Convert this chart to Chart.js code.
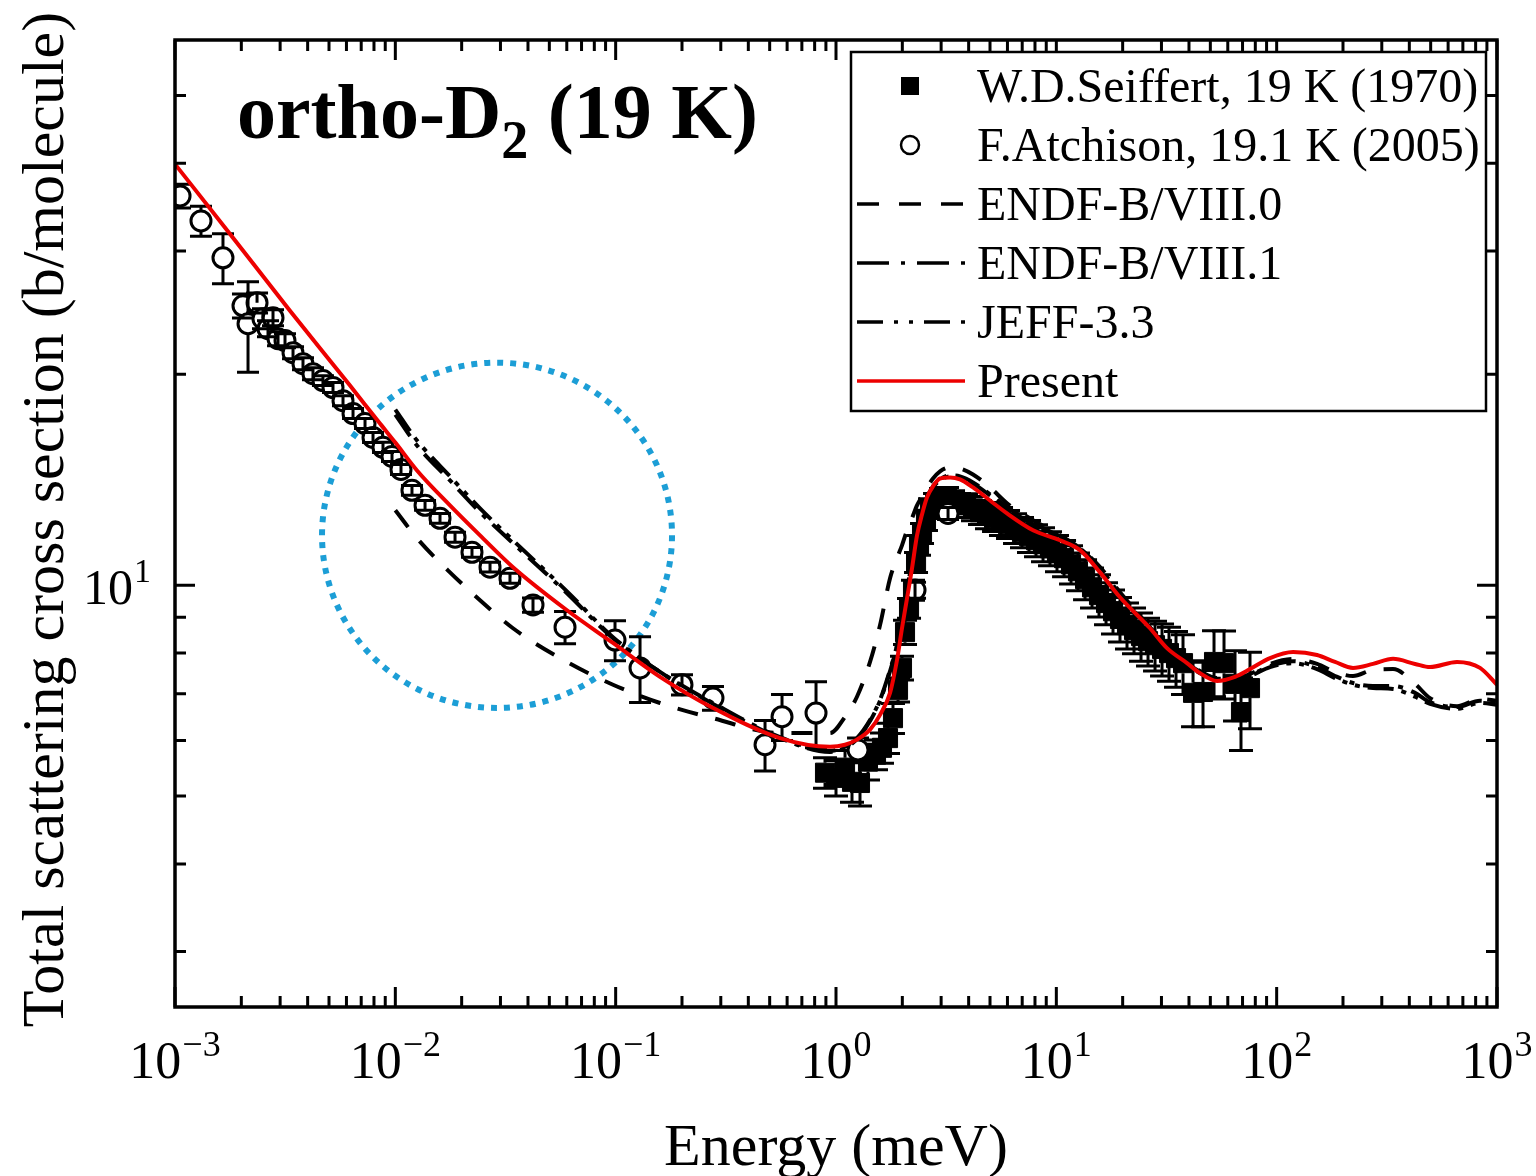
<!DOCTYPE html>
<html><head><meta charset="utf-8">
<script src="https://cdn.jsdelivr.net/npm/chart.js@4.4.1/dist/chart.umd.min.js"></script>
<style>html,body{margin:0;padding:0;background:#fff;overflow:hidden}canvas{display:block}</style>
</head><body>
<canvas id="c" width="1536" height="1176" style="width:1536px;height:1176px"></canvas>
<script>
// ---------------- DATA ----------------
const xTickExponents = [-3, -2, -1, 0, 1, 2, 3];
const yMajorTicks = [10];
const yMajorLabels = [["10", "1"]];
const yMinorTicks = [3, 4, 5, 6, 7, 8, 9, 20, 30, 40, 50];

const panelTitle = ["ortho-D", "2", " (19 K)"];
const xTitle = "Energy (meV)";
const yTitle = "Total scattering cross section (b/molecule)";

// Present (red)
const presentEnergy = [0.001,0.001777,0.003325,0.006228,0.008518,0.01,0.01254,0.0177,0.02423,0.0342,0.06013,0.09725,0.1589,0.2765,0.5568,0.9393,1.099,1.245,1.427,1.584,1.759,1.892,1.993,2.101,2.213,2.332,2.457,2.589,2.756,2.966,3.293,3.654,4.186,5.0,5.973,7.84,10.39,12.81,15.79,19.45,26.62,31.79,39.19,44.88,53.62,64.71,75.68,93.29,118.7,152.5,184.0,222.1,273.7,337.4,424.5,496.6,658.5,837.4,1000];
const presentSigma = [39.9,31.72,24.64,19.27,17.01,15.98,14.58,13.00,11.78,10.61,9.21,8.27,7.40,6.68,6.05,5.88,5.92,6.02,6.22,6.53,7.02,7.82,8.68,9.58,10.57,11.78,12.62,13.35,13.84,14.20,14.25,14.16,13.79,13.21,12.66,11.98,11.59,11.22,10.43,9.61,8.68,8.13,7.74,7.49,7.30,7.40,7.59,7.87,8.03,7.95,7.77,7.62,7.72,7.85,7.72,7.64,7.77,7.62,7.21];

// Evaluations share one energy grid
const evalEnergy = [0.01,0.01254,0.0177,0.02423,0.0342,0.06013,0.09725,0.1589,0.2765,0.5568,0.9393,1.099,1.245,1.427,1.584,1.759,1.892,1.993,2.101,2.213,2.332,2.457,2.589,2.756,2.966,3.293,3.654,4.186,5.0,5.973,7.84,10.39,12.81,15.79,19.45,26.62,31.79,39.19,44.88,53.62,64.71,75.68,93.29,118.7,152.5,184.0,222.1,273.7,337.4,424.5,496.6,658.5,837.4,1000];
const endf80Sigma = [12.79,11.67,10.43,9.52,8.68,7.77,7.21,6.79,6.46,6.15,6.15,6.49,6.93,7.77,8.77,10.23,10.93,11.40,11.98,12.46,13.00,13.39,13.79,14.20,14.54,14.73,14.68,14.39,13.79,13.09,12.38,11.78,11.29,10.61,9.77,8.71,8.19,7.77,7.54,7.37,7.37,7.47,7.72,7.85,7.72,7.52,7.42,7.57,7.59,7.23,6.90,6.72,6.88,6.84];
const endf81Sigma = [17.52,15.83,14.11,12.71,11.48,9.74,8.40,7.52,6.79,6.07,5.80,5.88,6.05,6.42,6.86,7.57,8.21,8.92,9.84,10.86,11.86,12.71,13.35,13.84,14.16,14.35,14.30,14.02,13.48,12.92,12.26,11.75,11.29,10.57,9.71,8.68,8.16,7.74,7.52,7.37,7.37,7.44,7.67,7.79,7.64,7.42,7.25,7.18,7.18,7.02,6.81,6.70,6.84,6.79];
const jeffSigma = [17.81,16.09,14.30,12.87,11.59,9.80,8.43,7.52,6.77,6.05,5.78,5.86,6.03,6.40,6.84,7.54,8.19,8.89,9.80,10.82,11.82,12.66,13.30,13.79,14.11,14.30,14.25,13.97,13.43,12.87,12.22,11.71,11.25,10.54,9.68,8.66,8.13,7.72,7.49,7.35,7.35,7.42,7.64,7.74,7.59,7.37,7.21,7.13,7.11,6.93,6.77,6.66,6.79,6.75];

// F.Atchison, 19.1 K (2005)
const atchEnergy = [0.001054,0.001312,0.001651,0.002035,0.002145,0.002357,0.002508,0.002643,0.002785,0.002935,0.003157,0.003433,0.00381,0.004229,0.004694,0.005213,0.005788,0.006427,0.007285,0.00792,0.00879,0.009658,0.01061,0.0119,0.01364,0.01595,0.01866,0.02228,0.0269,0.03314,0.04215,0.05891,0.09931,0.129,0.2,0.2765,0.4763,0.5689,0.8116,1.259,2.284,3.225];
const atchSigma = [35.94,33.11,29.33,25.05,23.62,25.30,24.01,23.23,24.09,22.48,22.34,21.47,20.71,20.04,19.59,19.15,18.34,17.58,17.01,16.25,15.73,15.27,14.63,13.66,13.00,12.46,11.71,11.14,10.61,10.23,9.37,8.71,8.35,7.62,7.21,6.90,5.92,6.49,6.57,5.82,9.84,12.66];
const atchError = [1.41,1.63,2.41,0.99,3.49,0.83,0.79,0.61,0.63,0.52,0.51,0.42,0.41,0.39,0.32,0.31,0.30,0.29,0.28,0.27,0.26,0.25,0.24,0.22,0.21,0.20,0.19,0.18,0.17,0.17,0.22,0.46,0.55,0.82,0.24,0.27,0.49,0.49,0.71,0.23,0.26,0.25];

// W.D.Seiffert, 19 K (1970)
const seifEnergy = [0.8915,1.0,1.099,1.182,1.285,1.397,1.519,1.617,1.722,1.814,1.912,1.993,2.057,2.145,2.236,2.308,2.381,2.457,2.561,2.671,2.815,2.997,3.191,3.398,3.616,3.892,4.186,4.504,4.846,5.215,5.61,6.036,6.494,6.985,7.516,8.087,8.702,9.361,10.07,10.84,11.66,12.54,13.5,14.52,15.62,16.81,18.08,19.45,20.93,22.52,24.23,26.07,28.05,30.18,32.46,34.93,37.58,41.73,46.31,51.96,57.68,64.71,68.88,75.68];
const seifSigma = [5.40,5.31,5.49,5.24,5.22,5.60,5.73,5.86,6.05,6.46,7.09,7.62,8.57,9.27,9.84,10.78,11.40,11.86,12.38,12.87,13.09,13.30,13.35,13.21,13.09,13.00,12.87,12.71,12.58,12.46,12.34,12.22,12.06,11.90,11.75,11.59,11.44,11.29,11.11,10.93,10.71,10.47,10.20,9.93,9.68,9.43,9.18,8.95,8.77,8.63,8.46,8.32,8.21,8.11,8.00,7.87,7.74,7.02,7.04,7.77,7.74,7.23,6.59,7.13];
const seifError = [0.27,0.31,0.32,0.34,0.38,0.33,0.28,0.29,0.30,0.32,0.28,0.30,0.34,0.30,0.32,0.35,0.37,0.39,0.41,0.42,0.43,0.44,0.44,0.43,0.43,0.51,0.51,0.50,0.54,0.53,0.57,0.56,0.59,0.59,0.62,0.61,0.64,0.63,0.66,0.65,0.67,0.65,0.67,0.65,0.67,0.65,0.66,0.65,0.66,0.65,0.67,0.65,0.67,0.69,0.71,0.72,0.76,0.74,0.76,0.84,0.86,0.83,0.78,0.89];

// highlighted region (dotted ellipse), given by its energy / cross-section extents
const highlightEnergy = [0.004648, 0.1802];
const highlightSigma = [6.68, 20.78];

// ---------------- RENDER ----------------
const SERIF = '"Liberation Serif", "Times New Roman", serif';
const RED = 'rgb(237,0,0)';
const pts = (xs, ys) => xs.map((x, i) => ({x: x, y: ys[i]}));

const datasets = [
  {label: 'Present', data: pts(presentEnergy, presentSigma), borderColor: RED, borderWidth: 4,
   pointRadius: 0, cubicInterpolationMode: 'monotone', order: 0, legendLine: []},
  {label: 'ENDF-B/VIII.0', data: pts(evalEnergy, endf80Sigma), borderColor: '#000', borderWidth: 4,
   borderDash: [21, 18], pointRadius: 0, cubicInterpolationMode: 'monotone', order: 1, legendLine: [22, 20]},
  {label: 'ENDF-B/VIII.1', data: pts(evalEnergy, endf81Sigma), borderColor: '#000', borderWidth: 4,
   borderDash: [26, 9, 5, 9], pointRadius: 0, cubicInterpolationMode: 'monotone', order: 2, legendLine: [32, 12, 4, 12]},
  {label: 'JEFF-3.3', data: pts(evalEnergy, jeffSigma), borderColor: '#000', borderWidth: 4,
   borderDash: [26, 8, 5, 8, 5, 8], pointRadius: 0, cubicInterpolationMode: 'monotone', order: 3, legendLine: [26, 11, 4, 11, 4, 11]},
  {label: 'F.Atchison, 19.1 K (2005)', data: pts(atchEnergy, atchSigma), showLine: false,
   pointStyle: 'circle', pointRadius: 10, pointBorderWidth: 3, pointBackgroundColor: '#fff', pointBorderColor: '#000',
   errors: atchError, markerHalf: 10, capHalf: 11, order: 4, legendMarker: 'circle'},
  {label: 'W.D.Seiffert, 19 K (1970)', data: pts(seifEnergy, seifSigma), showLine: false,
   pointStyle: 'rect', pointRadius: 13.5, pointBorderWidth: 1, pointBackgroundColor: '#000', pointBorderColor: '#000',
   errors: seifError, markerHalf: 10, capHalf: 12, order: 5, legendMarker: 'rect'}
];
const legendOrder = ['W.D.Seiffert, 19 K (1970)', 'F.Atchison, 19.1 K (2005)', 'ENDF-B/VIII.0', 'ENDF-B/VIII.1', 'JEFF-3.3', 'Present'];

const errorBarPlugin = {
  id: 'errbars',
  afterDatasetDraw(chart, args) {
    const ds = chart.data.datasets[args.index];
    if (!ds.errors) return;
    const ctx = chart.ctx, xs = chart.scales.x, ys = chart.scales.y, a = chart.chartArea;
    const r = ds.markerHalf, cap = ds.capHalf;
    ctx.save();
    ctx.beginPath(); ctx.rect(a.left, a.top, a.right - a.left, a.bottom - a.top); ctx.clip();
    ctx.strokeStyle = '#000'; ctx.lineWidth = 3; ctx.lineCap = 'butt';
    ds.data.forEach((p, i) => {
      const e = ds.errors[i];
      const px = xs.getPixelForValue(p.x), py = ys.getPixelForValue(p.y);
      const top = ys.getPixelForValue(p.y + e), bot = ys.getPixelForValue(p.y - e);
      ctx.beginPath();
      ctx.moveTo(px, (py - top > r) ? py - r : py); ctx.lineTo(px, top);
      ctx.moveTo(px, (bot - py > r) ? py + r : py); ctx.lineTo(px, bot);
      ctx.moveTo(px - cap, top); ctx.lineTo(px + cap, top);
      ctx.moveTo(px - cap, bot); ctx.lineTo(px + cap, bot);
      ctx.stroke();
    });
    ctx.restore();
  }
};

const highlightPlugin = {
  id: 'highlight',
  beforeDatasetsDraw(chart) {
    const ctx = chart.ctx, xs = chart.scales.x, ys = chart.scales.y;
    const x0 = xs.getPixelForValue(highlightEnergy[0]), x1 = xs.getPixelForValue(highlightEnergy[1]);
    const y0 = ys.getPixelForValue(highlightSigma[1]), y1 = ys.getPixelForValue(highlightSigma[0]);
    ctx.save();
    ctx.strokeStyle = 'rgb(28,158,214)'; ctx.lineWidth = 6; ctx.setLineDash([6, 7]); ctx.lineCap = 'butt';
    ctx.beginPath();
    ctx.ellipse((x0 + x1) / 2, (y0 + y1) / 2, (x1 - x0) / 2, (y1 - y0) / 2, 0, 0, Math.PI * 2);
    ctx.stroke();
    ctx.restore();
  }
};

function drawPower(ctx, mant, exp, x, y, align, big, small, rise) {
  ctx.font = big + 'px ' + SERIF; const wm = ctx.measureText(mant).width;
  ctx.font = small + 'px ' + SERIF; const we = ctx.measureText(exp).width;
  const total = wm + 1 + we;
  const sx = align === 'center' ? x - total / 2 : x - total;
  ctx.textAlign = 'left'; ctx.textBaseline = 'alphabetic';
  ctx.font = big + 'px ' + SERIF; ctx.fillText(mant, sx, y);
  ctx.font = small + 'px ' + SERIF; ctx.fillText(exp, sx + wm + 1, y - rise);
}

const axesPlugin = {
  id: 'axes',
  afterDraw(chart) {
    const ctx = chart.ctx, a = chart.chartArea, xs = chart.scales.x, ys = chart.scales.y;
    const MAJ = 20, MIN = 11;
    ctx.save();
    ctx.strokeStyle = '#000'; ctx.fillStyle = '#000'; ctx.lineWidth = 3; ctx.setLineDash([]);
    ctx.beginPath();
    xTickExponents.forEach(k => {
      const v = Math.pow(10, k), px = xs.getPixelForValue(v);
      ctx.moveTo(px, a.bottom); ctx.lineTo(px, a.bottom - MAJ);
      ctx.moveTo(px, a.top); ctx.lineTo(px, a.top + MAJ);
      if (k < xTickExponents[xTickExponents.length - 1]) {
        for (let m = 2; m <= 9; m++) {
          const q = xs.getPixelForValue(m * v);
          ctx.moveTo(q, a.bottom); ctx.lineTo(q, a.bottom - MIN);
          ctx.moveTo(q, a.top); ctx.lineTo(q, a.top + MIN);
        }
      }
    });
    yMajorTicks.forEach(v => {
      const py = ys.getPixelForValue(v);
      ctx.moveTo(a.left, py); ctx.lineTo(a.left + MAJ, py);
      ctx.moveTo(a.right, py); ctx.lineTo(a.right - MAJ, py);
    });
    yMinorTicks.forEach(v => {
      const py = ys.getPixelForValue(v);
      ctx.moveTo(a.left, py); ctx.lineTo(a.left + MIN, py);
      ctx.moveTo(a.right, py); ctx.lineTo(a.right - MIN, py);
    });
    ctx.stroke();
    ctx.lineWidth = 3.5;
    ctx.strokeRect(a.left, a.top, a.right - a.left, a.bottom - a.top);

    // tick labels
    xTickExponents.forEach(k => {
      const px = xs.getPixelForValue(Math.pow(10, k));
      const ex = (k < 0 ? '\u2212' + Math.abs(k) : String(k));
      drawPower(ctx, '10', ex, px, 1078, 'center', 52, 36, 22);
    });
    yMajorTicks.forEach((v, i) => {
      const py = ys.getPixelForValue(v);
      drawPower(ctx, yMajorLabels[i][0], yMajorLabels[i][1], 151, py + 19, 'right', 50, 34, 22);
    });

    // axis titles
    ctx.font = '60px ' + SERIF; ctx.textAlign = 'center'; ctx.textBaseline = 'alphabetic';
    ctx.fillText(xTitle, (a.left + a.right) / 2, 1165);
    ctx.save();
    ctx.translate(63, (a.top + a.bottom) / 2 - 4); ctx.rotate(-Math.PI / 2);
    ctx.fillText(yTitle, 0, 0);
    ctx.restore();

    // panel title
    ctx.textAlign = 'left';
    let tx = 237; const ty = 138;
    ctx.font = 'bold 78px ' + SERIF; ctx.fillText(panelTitle[0], tx, ty); tx += ctx.measureText(panelTitle[0]).width;
    ctx.font = 'bold 54px ' + SERIF; ctx.fillText(panelTitle[1], tx, ty + 20); tx += ctx.measureText(panelTitle[1]).width;
    ctx.font = 'bold 78px ' + SERIF; ctx.fillText(panelTitle[2], tx, ty);

    // legend
    const L = {x0: 851, y0: 52, x1: 1486, y1: 411, row0: 86, step: 59, symX: 910, lx0: 857, lx1: 965, tx: 977};
    ctx.fillStyle = '#fff'; ctx.fillRect(L.x0, L.y0, L.x1 - L.x0, L.y1 - L.y0);
    ctx.lineWidth = 2.5; ctx.strokeStyle = '#000'; ctx.strokeRect(L.x0, L.y0, L.x1 - L.x0, L.y1 - L.y0);
    legendOrder.forEach((lab, i) => {
      const ds = chart.data.datasets.find(d => d.label === lab);
      const cy = L.row0 + i * L.step;
      ctx.save();
      if (ds.legendMarker === 'rect') {
        ctx.fillStyle = '#000'; ctx.fillRect(L.symX - 9, cy - 9, 18, 18);
      } else if (ds.legendMarker === 'circle') {
        ctx.fillStyle = '#fff'; ctx.strokeStyle = '#000'; ctx.lineWidth = 2.5;
        ctx.beginPath(); ctx.arc(L.symX, cy, 9, 0, Math.PI * 2); ctx.fill(); ctx.stroke();
      } else {
        ctx.strokeStyle = ds.borderColor; ctx.lineWidth = 3.5; ctx.setLineDash(ds.legendLine);
        ctx.beginPath(); ctx.moveTo(L.lx0, cy); ctx.lineTo(L.lx1, cy); ctx.stroke();
      }
      ctx.restore();
      ctx.fillStyle = '#000'; ctx.font = '48px ' + SERIF; ctx.textAlign = 'left'; ctx.textBaseline = 'alphabetic';
      ctx.fillText(lab, L.tx, cy + 16);
    });
    ctx.restore();
  }
};

new Chart(document.getElementById('c').getContext('2d'), {
  type: 'line',
  data: {datasets: datasets},
  options: {
    responsive: false, animation: false, devicePixelRatio: 1,
    layout: {padding: {left: 175, right: 39, top: 40, bottom: 169}},
    scales: {
      x: {type: 'logarithmic', min: 1e-3, max: 1e3, display: false},
      y: {type: 'logarithmic', min: 2.5, max: 60, display: false}
    },
    plugins: {legend: {display: false}, tooltip: {enabled: false}},
    elements: {line: {fill: false}}
  },
  plugins: [highlightPlugin, errorBarPlugin, axesPlugin]
});
</script>
</body></html>
